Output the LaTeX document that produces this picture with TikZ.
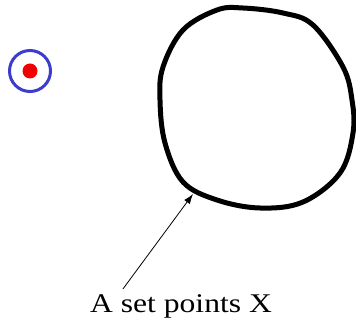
\documentclass[tikz,border=0pt]{standalone}
\usepackage{fontspec}
\setmainfont{Liberation Serif}
\newfontfamily\lblfont[FakeStretch=1.17]{Liberation Serif}
\usetikzlibrary{arrows.meta,positioning}
\definecolor{ringblue}{RGB}{60,60,205}
\definecolor{dotred}{RGB}{240,0,0}
\tikzset{
  ring/.style={circle, draw=ringblue, line width=3pt, minimum size=41pt, inner sep=0pt},
  dot/.style={circle, fill=dotred, minimum size=15pt, inner sep=0pt},
  blob/.style={line width=5pt, line join=round},
  lbl/.style={inner sep=0pt, font=\lblfont\fontsize{27}{29}\selectfont},
  pointer/.style={-{Latex[length=10pt,width=7pt]}, line width=0.8pt}
}
\begin{document}
\begin{tikzpicture}[x=1pt,y=1pt]
\useasboundingbox (0,0) rectangle (356,324);
\node[ring] (target) at (30,253) {};
\node[dot] (centre) at (target.center) {};
\draw[blob] plot[smooth cycle, tension=0.6] coordinates {
  (243,316) (283,311) (313,299) (343,257) (352,224) (353,191) (340,151)
  (303,122) (260,116) (217,124) (183,142) (165,181) (160,224) (163,257)
  (183,294) (217,314)};
\coordinate (tip) at (193,130);
\node[lbl, anchor=base] (label) at (181,12) {A set points X};
\draw[pointer] ([xshift=33pt,yshift=5pt]label.north west) -- (tip);
\end{tikzpicture}
\end{document}
